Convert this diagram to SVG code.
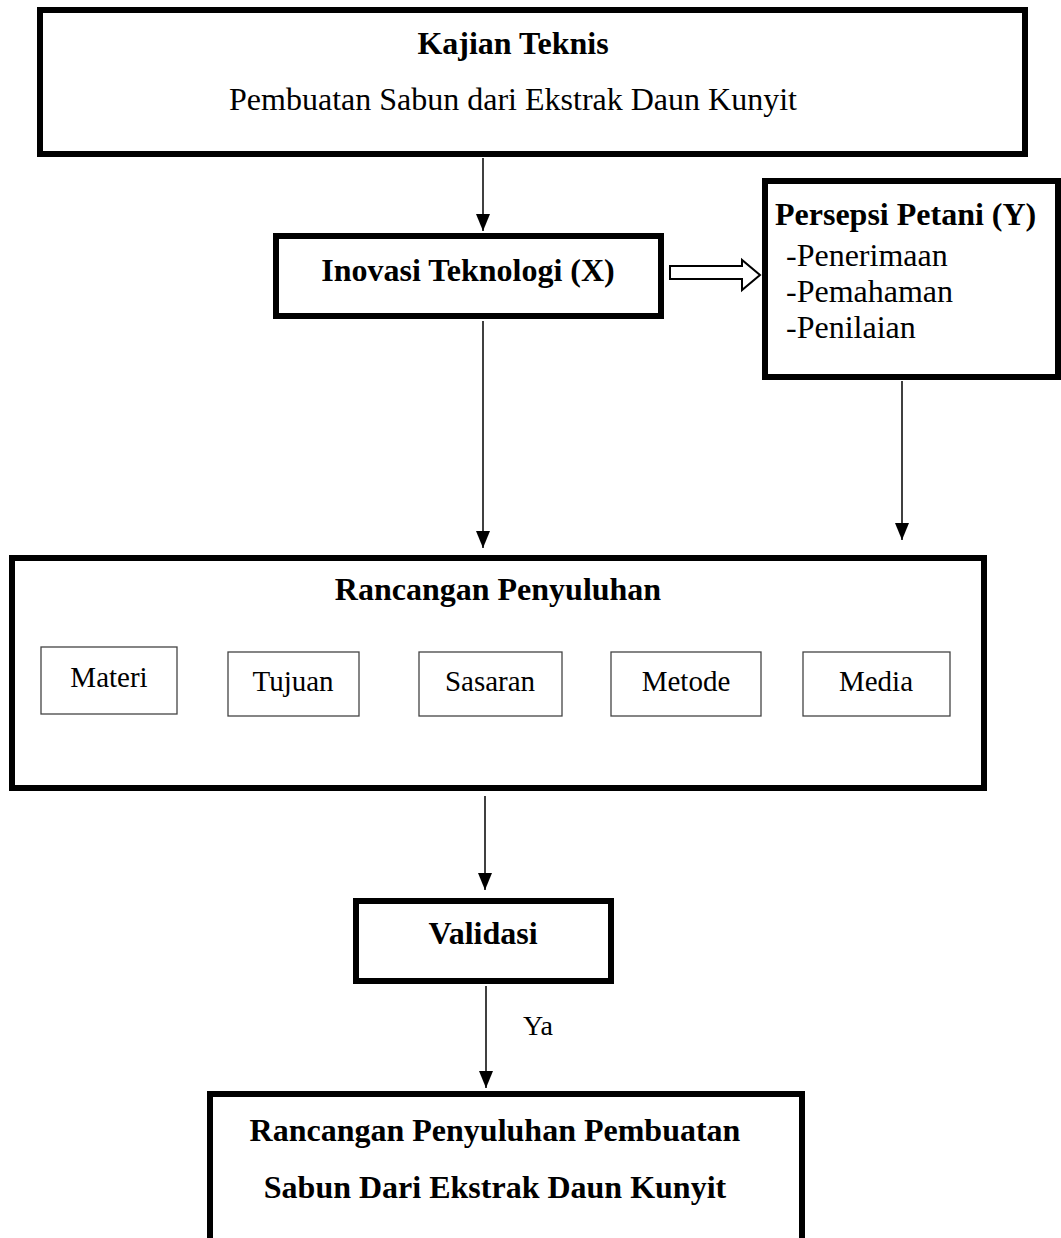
<svg xmlns="http://www.w3.org/2000/svg" width="1061" height="1238" viewBox="0 0 1061 1238">
<style>
.box{fill:#fff;stroke:#000;stroke-width:6}
.sub{fill:#fff;stroke:#444;stroke-width:1.3}
.t{font-family:"Liberation Serif","Times New Roman",serif;fill:#000}
.b{font-weight:bold;font-size:32px}
.r{font-size:32px}
.s{font-size:29px}
.ln{stroke:#000;stroke-width:1.5;fill:none}
.hd{fill:#000}
</style>
<rect width="1061" height="1238" fill="#fff"/>
<g id="connectors">
<line class="ln" x1="483" y1="158" x2="483" y2="231"/>
<path class="hd" d="M476,214 L490,214 L483,231 Z"/>
<line class="ln" x1="483" y1="321" x2="483" y2="548"/>
<path class="hd" d="M476,531 L490,531 L483,548 Z"/>
<line class="ln" x1="902" y1="381" x2="902" y2="540"/>
<path class="hd" d="M895,523 L909,523 L902,540 Z"/>
<line class="ln" x1="485" y1="796" x2="485" y2="890"/>
<path class="hd" d="M478,873 L492,873 L485,890 Z"/>
<line class="ln" x1="486" y1="986" x2="486" y2="1088"/>
<path class="hd" d="M479,1071 L493,1071 L486,1088 Z"/>
<polygon points="670,266 742,266 742,260 760,275 742,290 742,279 670,279" fill="#fff" stroke="#000" stroke-width="2"/>
<text class="t" x="523" y="1035" font-size="28px">Ya</text>
</g>
<g id="kajian">
<rect class="box" x="40" y="10" width="985" height="144"/>
<text class="t b" x="513" y="54" text-anchor="middle">Kajian Teknis</text>
<text class="t r" x="513" y="110" text-anchor="middle">Pembuatan Sabun dari Ekstrak Daun Kunyit</text>
</g>
<g id="inovasi">
<rect class="box" x="276" y="236" width="385" height="80"/>
<text class="t b" x="468" y="281" text-anchor="middle">Inovasi Teknologi (X)</text>
</g>
<g id="persepsi">
<rect class="box" x="765" y="181" width="293" height="196"/>
<text class="t b" x="775" y="225">Persepsi Petani (Y)</text>
<text class="t r" x="786" y="266">-Penerimaan</text>
<text class="t r" x="786" y="302">-Pemahaman</text>
<text class="t r" x="786" y="338">-Penilaian</text>
</g>
<g id="rancangan">
<rect class="box" x="12" y="558" width="972" height="230"/>
<text class="t b" x="498" y="600" text-anchor="middle">Rancangan Penyuluhan</text>
</g>
<g id="materi">
<rect class="sub" x="41" y="647" width="136" height="67"/>
<text class="t s" x="109" y="687" text-anchor="middle">Materi</text>
</g>
<g id="tujuan">
<rect class="sub" x="228" y="652" width="131" height="64"/>
<text class="t s" x="293" y="691" text-anchor="middle">Tujuan</text>
</g>
<g id="sasaran">
<rect class="sub" x="419" y="652" width="143" height="64"/>
<text class="t s" x="490" y="691" text-anchor="middle">Sasaran</text>
</g>
<g id="metode">
<rect class="sub" x="611" y="652" width="150" height="64"/>
<text class="t s" x="686" y="691" text-anchor="middle">Metode</text>
</g>
<g id="media">
<rect class="sub" x="803" y="652" width="147" height="64"/>
<text class="t s" x="876" y="691" text-anchor="middle">Media</text>
</g>
<g id="validasi">
<rect class="box" x="356" y="901" width="255" height="80"/>
<text class="t b" x="483" y="944" text-anchor="middle">Validasi</text>
</g>
<g id="hasil">
<rect class="box" x="210" y="1094" width="592" height="160"/>
<text class="t b" x="495" y="1141" text-anchor="middle">Rancangan Penyuluhan Pembuatan</text>
<text class="t b" x="495" y="1198" text-anchor="middle">Sabun Dari Ekstrak Daun Kunyit</text>
</g>
</svg>
